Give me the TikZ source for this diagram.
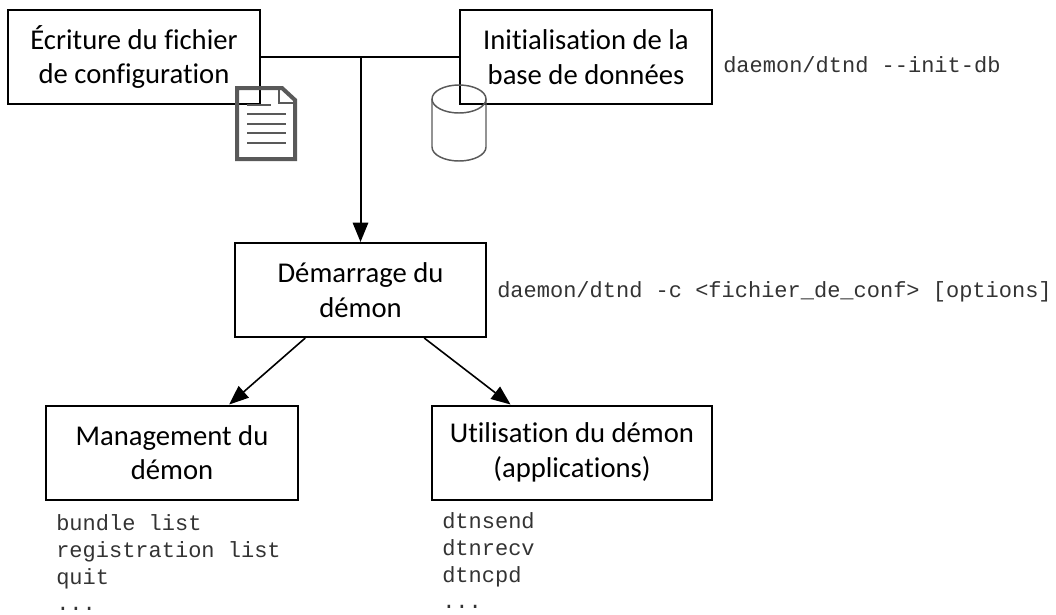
\documentclass[tikz,border=0pt]{standalone}
\usepackage{fontspec}
\setmainfont[RawFeature=-liga]{Carlito}
\setmonofont{Liberation Mono}
\usetikzlibrary{arrows.meta}
\definecolor{icongray}{HTML}{595959}
\tikzset{stepbox/.style={draw,line width=1.5pt,align=center,inner sep=0pt,
    minimum height=70.5pt,font=\fontsize{21.5}{26}\selectfont},
  cmd/.style={anchor=west,align=left,inner sep=0pt,text=black!80,font=\fontsize{16.5}{20}\selectfont\ttfamily},
  flow/.style={-{Stealth[length=14.5pt,width=11.5pt,inset=0pt]}}}

\begin{document}
\begin{tikzpicture}[x=0.75pt, y=-0.75pt]
    \useasboundingbox (0,0) rectangle (1056,614);

    \node[stepbox, minimum width=189pt] (ecriture) at (134,57) {Écriture du fichier\\de configuration};
    \node[stepbox, minimum width=189pt] (init) at (586,57) {Initialisation de la\\base de données};
    \node[stepbox, minimum width=188pt] (demarrage) at (360.5,290) {Démarrage du\\démon};
    \node[stepbox, minimum width=189pt] (management) at (172,452.5) {Management du\\démon};
    \node[stepbox, minimum width=210pt] (utilisation) at (572,452.5) {Utilisation du démon\\(applications)};

    \node[cmd] (cmd-init) at (723,65) {daemon/dtnd --init-db};
    \node[cmd] (cmd-demarrage) at (497,292) {daemon/dtnd -c <fichier\_de\_conf> [options]};
    \node[cmd] (cmd-management) at (56,563) {bundle list\\registration list\\quit\\...};
    \node[cmd] (cmd-utilisation) at (442,561) {dtnsend\\dtnrecv\\dtncpd\\...};

    \coordinate (junction) at (demarrage.north |- ecriture.east);

    \draw[line width=1.5pt] (ecriture) -- (init);
    \draw[flow, line width=1.5pt] (junction) -- (demarrage);
    \draw[flow, line width=1.2pt] (demarrage.-139.7) -- (management.40.8);
    \draw[flow, line width=1.2pt] (demarrage.-37.8) -- (utilisation.142.8);

    % document icon
    \draw[icongray, line width=3pt, miter limit=10]
      (237,88) -- (282,88) -- (295,100) -- (295,159) -- (237,159) -- cycle;
    \draw[icongray, line width=1.5pt] (279,88) -- (279,103) -- (295,103);
    \draw[icongray, line width=1.5pt] (247,105) -- (271,105);
    \foreach \y in {114,124,133,143}
      \draw[icongray, line width=1.5pt] (247,\y) -- (286,\y);

    % database icon
    \draw[icongray, line width=1.1pt] (459,99) ellipse [x radius=27, y radius=14];
    \draw[icongray, line width=1.1pt]
      (432,99) -- (432,147) arc [start angle=180, end angle=360, x radius=27, y radius=-14] -- (486,99);
\end{tikzpicture}
\end{document}
